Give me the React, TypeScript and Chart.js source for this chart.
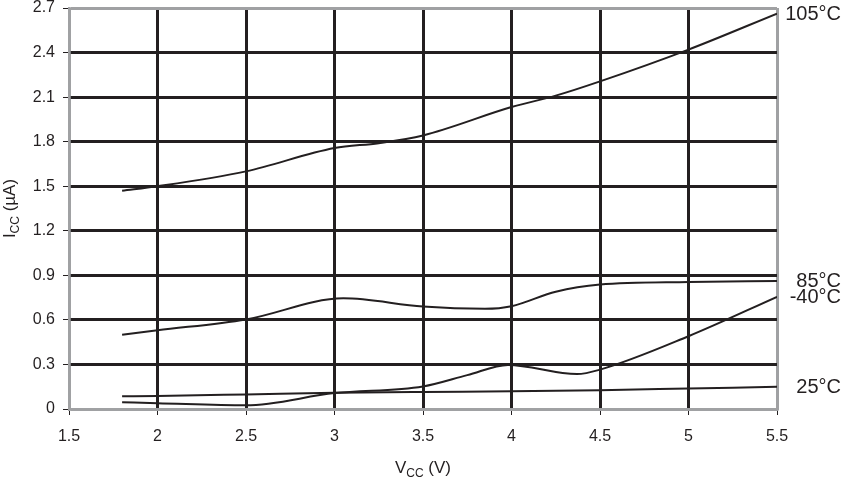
import React, { useEffect, useRef } from "react";
import { Chart, registerables } from "chart.js";

Chart.register(...registerables);

// ---- Data ----
const seriesLabels = ["105°C", "85°C", "-40°C", "25°C"];

const vcc105 = [1.8, 2.0, 2.5, 3.0, 3.25, 3.5, 4.0, 4.25, 4.5, 5.0, 5.5];
const icc105 = [1.47, 1.5, 1.6, 1.757, 1.79, 1.842, 2.033, 2.11, 2.206, 2.42, 2.662];

const vcc85 = [1.8, 2.0, 2.5, 3.05, 3.5, 3.85, 4.0, 4.25, 4.5, 5.0, 5.5];
const icc85 = [0.5, 0.53, 0.603, 0.745, 0.69, 0.675, 0.692, 0.79, 0.838, 0.855, 0.862];

const vccM40 = [1.8, 2.0, 2.5, 3.0, 3.5, 3.75, 3.98, 4.37, 4.5, 5.0, 5.5];
const iccM40 = [0.045, 0.039, 0.025, 0.107, 0.152, 0.228, 0.297, 0.235, 0.265, 0.49, 0.755];

const vcc25 = [1.8, 2.0, 2.5, 3.0, 3.5, 4.0, 4.5, 5.0, 5.5];
const icc25 = [0.086, 0.088, 0.098, 0.109, 0.115, 0.119, 0.127, 0.138, 0.149];

const xTicks = [1.5, 2, 2.5, 3, 3.5, 4, 4.5, 5, 5.5];
const yTicks = [0, 0.3, 0.6, 0.9, 1.2, 1.5, 1.8, 2.1, 2.4, 2.7];

const xTitle = { main: "V", sub: "CC", rest: " (V)" };
const yTitle = { main: "I", sub: "CC", rest: " (µA)" };

const INK = "#231f20";
const FRAME = "#a0a1a3";
const FONT = "'Liberation Sans', Arial, Helvetica, sans-serif";

function pts(xs: number[], ys: number[]) {
  return xs.map((x, i) => ({ x, y: ys[i] }));
}

function drawSubText(
  ctx: CanvasRenderingContext2D,
  t: { main: string; sub: string; rest: string },
  size: number,
  subSize: number
) {
  ctx.font = `${size}px ${FONT}`;
  const w1 = ctx.measureText(t.main).width;
  const w3 = ctx.measureText(t.rest).width;
  ctx.font = `${subSize}px ${FONT}`;
  const w2 = ctx.measureText(t.sub).width;
  const total = w1 + w2 + w3;
  let x = -total / 2;
  ctx.textAlign = "left";
  ctx.textBaseline = "alphabetic";
  ctx.font = `${size}px ${FONT}`;
  ctx.fillText(t.main, x, 0);
  x += w1;
  ctx.font = `${subSize}px ${FONT}`;
  ctx.fillText(t.sub, x, size * 0.22);
  x += w2;
  ctx.font = `${size}px ${FONT}`;
  ctx.fillText(t.rest, x, 0);
}

const annotPlugin = {
  id: "annot",
  afterDraw(chart: any) {
    const ctx = chart.ctx as CanvasRenderingContext2D;
    const { chartArea, scales } = chart;
    ctx.save();
    ctx.fillStyle = INK;
    // series labels on the right, at the last value of each series
    const lasts = [icc105, icc85, iccM40, icc25].map((a) => a[a.length - 1]);
    ctx.font = `20px ${FONT}`;
    ctx.textAlign = "right";
    ctx.textBaseline = "middle";
    seriesLabels.forEach((lab, i) => {
      const y = scales.y.getPixelForValue(lasts[i]);
      ctx.fillText(lab, 841, y + 1);
    });
    // x title
    ctx.save();
    ctx.translate((chartArea.left + chartArea.right) / 2, 473);
    drawSubText(ctx, xTitle, 17, 12);
    ctx.restore();
    // y title
    ctx.save();
    ctx.translate(15, (chartArea.top + chartArea.bottom) / 2);
    ctx.rotate(-Math.PI / 2);
    drawSubText(ctx, yTitle, 17, 12);
    ctx.restore();
    ctx.restore();
  },
};

export default function App() {
  const ref = useRef<HTMLCanvasElement>(null);
  useEffect(() => {
    if (!ref.current) return;
    const lineStyle = {
      showLine: true,
      borderColor: INK,
      borderWidth: 2,
      pointRadius: 0,
      fill: false,
      cubicInterpolationMode: "monotone" as const,
    };
    const gridColor = (c: any) =>
      c.index === 0 || c.index === c.chart.scales[c.scale.id].ticks.length - 1 ? FRAME : INK;
    const chart = new Chart(ref.current, {
      type: "scatter",
      data: {
        datasets: [
          { label: seriesLabels[0], data: pts(vcc105, icc105), ...lineStyle },
          { label: seriesLabels[1], data: pts(vcc85, icc85), ...lineStyle },
          { label: seriesLabels[2], data: pts(vccM40, iccM40), ...lineStyle },
          { label: seriesLabels[3], data: pts(vcc25, icc25), ...lineStyle },
        ],
      },
      options: {
        animation: false,
        responsive: false,
        layout: { padding: { top: 8, right: 66, left: 0, bottom: 0 } },
        plugins: { legend: { display: false }, tooltip: { enabled: false } },
        scales: {
          x: {
            type: "linear",
            min: 1.5,
            max: 5.5,
            afterBuildTicks: (s: any) => {
              s.ticks = xTicks.map((v) => ({ value: v }));
            },
            afterFit: (s: any) => {
              s.height = 69;
              s.paddingLeft = 0;
              s.paddingRight = 0;
            },
            ticks: {
              color: INK,
              font: { family: FONT, size: 16 },
              padding: 12,
              maxRotation: 0,
              callback: (v: any) => String(Number(Number(v).toFixed(1))),
            },
            grid: {
              color: gridColor,
              lineWidth: 3,
              tickLength: 6,
              tickColor: INK,
              tickWidth: 1,
            },
            border: { display: true, color: FRAME, width: 2.5 },
          },
          y: {
            type: "linear",
            min: 0,
            max: 2.7,
            afterBuildTicks: (s: any) => {
              s.ticks = yTicks.map((v) => ({ value: v }));
            },
            afterFit: (s: any) => {
              s.width = 69;
              s.paddingTop = 0;
              s.paddingBottom = 0;
            },
            ticks: {
              color: INK,
              font: { family: FONT, size: 16 },
              padding: 8,
              callback: (v: any) => String(Number(Number(v).toFixed(1))),
            },
            grid: {
              color: gridColor,
              lineWidth: 3,
              tickLength: 6,
              tickColor: INK,
              tickWidth: 1,
            },
            border: { display: true, color: FRAME, width: 2.5 },
          },
        },
      },
      plugins: [annotPlugin],
    });
    return () => chart.destroy();
  }, []);
  return (
    <div style={{ position: "absolute", left: 0, top: 0, width: 843, height: 478, background: "#fff" }}>
      <canvas ref={ref} width={843} height={478} style={{ display: "block" }} />
    </div>
  );
}
